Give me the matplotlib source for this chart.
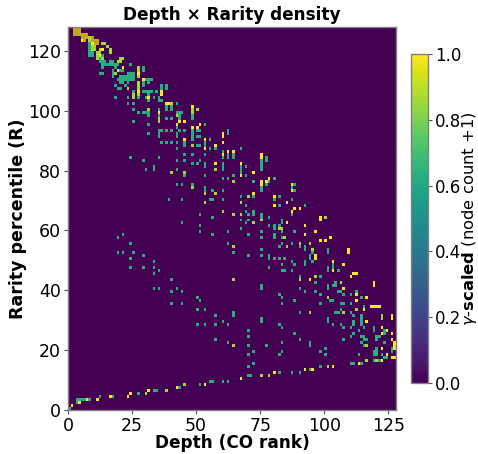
import numpy as np
import matplotlib
matplotlib.use("Agg")
import matplotlib.pyplot as plt
from matplotlib.colors import ListedColormap

teal_cells = [
(0,0),(3,2),(4,3),(5,3),(6,3),(3,3),(8,3),(12,4),(17,4),(27,5),(33,6),(34,6),(43,7),(51,8),(56,9),(55,9),(60,9),(62,9),(70,11),(71,11),(82,12),
(40,35),(44,35),(51,36),(83,35),(50,33),(53,33),(57,31),(64,31),(64,32),(75,29),(75,30),(60,29),(50,28),(53,28),(57,28),(62,28),(82,28),(83,27),
(70,26),(70,24),(57,23),(62,22),(70,21),(77,21),(83,22),(72,19),(83,19),(82,18),(70,18),(72,15),(70,14),(50,37),(51,36),(82,38),(83,37),
(24,84),(29,83),(35,84),(42,83),(45,83),(45,85),(48,85),(53,85),(48,82),(50,82),(51,83),(53,81),(53,82),(60,80),(60,81),(60,82),
(60,84),(60,86),(62,84),(62,85),(64,84),(64,85),(67,87),(30,80),(33,80),(33,81),(42,80),(45,78),(53,78),(60,77),(62,77),(64,78),
(67,81),(67,80),(67,79),(69,81),(69,78),(72,76),(75,83),(75,82),(75,81),(75,80),(77,83),(77,84),(75,74),(75,73),(77,75),(78,76),(80,77),
(42,75),(44,75),(48,75),(53,73),(53,74),(56,73),(60,73),(72,71),(67,71),(39,70),(44,70),(55,70),(56,70),(60,70),(69,68),(80,70),(82,71),(82,68),
(51,65),(56,64),(69,66),(70,65),(72,65),(72,66),(75,64),(75,65),(78,64),(67,63),(70,63),(69,62),(83,62),(83,63),(44,62),(51,61),(67,60),(78,61),
(80,60),(80,61),(82,61),(51,59),(62,59),(75,59),(56,58),(70,58),(75,57),(80,57),(80,58),(21,58),(19,57),(24,55),(62,55),(82,54),(83,55),
(75,53),(19,52),(21,52),(25,52),(64,52),(29,51),(70,51),(75,51),(78,50),(78,51),(80,50),(82,50),(84,50),(24,50),(33,49),(83,48),(24,47),(29,47),
(33,47),(35,46),(78,47),(83,46),(84,46),(33,45),(40,43),(75,40),(75,41),(33,40),(35,40),(42,40),(40,39),(44,39),(82,38),(83,37),
(42,102),(48,99),(48,98),(48,97),(43,99),(42,99),(43,96),(42,94),(50,93),(51,93),(50,94),(53,95),(48,93),(48,91),(48,90),(40,93),
(45,93),(42,91),(42,92),(50,91),(51,91),(45,88),(45,89),(40,89),(42,89),(42,87),(53,88),(53,89),(53,90),(55,90),(55,87),(57,87),(62,92),(62,93),
(48,85),(45,85),(50,88),(51,88),(36,93),(38,93),(35,91),(35,92),(35,93),(36,89),(38,89),(40,89),(42,91),(42,92),(45,88),(45,89),(45,93),(48,91),(48,92),(50,93),(51,93),
(87,74),(88,75),(88,73),(82,71),(87,70),(82,68),(92,68),(87,65),(83,62),(83,63),(83,59),(88,59),(83,57),(83,55),(82,54),(87,55),(90,54),(92,53),(92,54),(95,52),
(101,52),(101,53),(94,50),(94,51),(95,49),(82,50),(84,50),(87,49),(83,48),(88,48),(92,48),(92,49),(103,47),(103,48),(101,46),(101,47),(105,46),(83,46),(84,46),(87,46),
(90,44),(98,44),(96,42),(101,40),(101,41),(103,41),(104,41),(104,42),(90,40),(92,39),(96,39),(98,38),(105,39),(106,39),(107,38),(110,38),(112,39),(102,36),(103,36),
(114,37),(82,38),(83,37),(83,35),(88,36),(98,35),(106,35),(107,35),(110,35),(115,34),(90,32),(104,32),(105,32),(106,33),(110,32),(111,31),(114,28),(114,29),(114,30),(114,31),
(111,29),(101,29),(101,30),(103,28),(106,28),(107,27),(110,27),(111,28),(115,27),(82,28),(83,27),(119,26),(119,27),(123,25),(123,26),(113,26),(111,25),(110,24),(88,25),
(114,24),(115,24),(120,24),(121,24),(115,23),(116,23),(120,23),(107,23),(90,23),(83,22),(94,21),(94,22),(123,22),(114,22),(115,21),(126,19),(126,20),(100,20),(98,19),(83,19),
(82,18),(119,18),(119,19),(120,18),(120,19),(120,20),(100,18),(113,18),(122,18),(123,17),(124,17),(119,16),(121,16),(110,15),(111,15),(114,15),(98,14),(94,13),(82,12),(87,12),(90,12),
(8,122),(8,121),(8,120),(8,119),(8,118),(9,119),(9,118),(12,118),(12,117),(13,118),(12,116),(13,116),(13,115),(13,114),(14,115),(14,116),(15,115),(16,115),(16,116),(17,115),(17,116),
(18,115),(18,114),(19,115),(17,113),(17,112),(17,111),(12,112),(13,112),(19,110),(20,110),(20,111),(20,113),(21,110),(21,111),(21,113),(22,110),(22,111),
(19,113),(24,115),(24,110),(24,111),(19,107),(20,107),(20,109),(21,109),(22,108),(18,108),(18,104),(23,112),(24,112),(25,112),(23,111),(23,110),(23,109),(25,111),(25,110),
(25,106),(25,105),(23,104),(27,104),(29,113),(29,114),(29,109),(29,108),(30,110),(31,110),(32,110),(31,109),(29,106),(30,106),(31,106),(32,106),(30,104),(33,104),(31,105),(31,103),(34,106),
(36,106),(36,107),(36,108),(35,103),(35,104),(36,103),(38,107),(38,108),(38,100),(38,101),(40,100),(40,101),(42,102),(23,102),(25,102),(25,100),(27,99),(29,99),(31,98),(31,99),(30,99),
(25,96),(31,95),(31,92),(35,98),(35,100),(38,97),(40,97),(43,98),(43,99),(44,99),(43,97),(35,93),(38,93),(40,93),(43,93),(50,100),(40,101),
]
lime_cells = [
(7,3),(30,5),(38,6),(45,8),(75,11),(78,11),(64,21),(64,76),(57,80),(40,79),(45,79),(48,74),(53,72),(57,72),(70,71),(53,69),(67,69),(60,66),(64,65),(67,65),
(75,63),(72,62),(82,60),(83,60),(84,57),(64,54),(85,54),(64,43),(40,102),(48,100),(50,100),(42,98),(94,55),(90,43),(96,44),(106,42),(101,37),(112,33),(94,32),(107,32),(122,30),(122,31),
(116,21),(116,16),(120,16),(101,14),(84,57),(95,53),(100,64),(90,55),(48,88),
(10,122),(10,123),(11,122),(11,123),(10,120),(10,121),(11,119),(11,118),(11,117),(12,119),(12,120),(13,122),(14,122),(15,121),(16,120),(16,119),(13,117),(20,117),(21,117),(20,116),(19,116),
(18,112),(23,107),(25,104),(25,105),(27,114),(27,113),(27,112),(27,111),(27,109),(27,108),(27,107),(27,105),(31,100),(35,96),(35,97),(48,99),
]
yellow_cells = [
(1,1),(4,2),(7,3),(11,3),(16,4),(23,4),(24,5),(31,6),(42,7),(53,8),(67,10),(80,12),(60,85),(62,86),(64,86),(57,82),(67,82),(67,78),(72,79),(75,85),(75,84),(75,76),(75,75),
(77,76),(78,77),(72,72),(80,71),(85,69),(80,68),(85,62),(48,101),(48,94),(45,96),(42,95),(51,95),(50,94),(45,90),(53,87),(57,88),(60,91),(60,92),(60,89),(45,90),(53,90),
(87,75),(87,73),(85,69),(88,67),(90,67),(87,66),(98,63),(98,64),(92,61),(96,59),(92,58),(102,57),(98,56),(100,56),(109,52),(109,53),(96,50),(96,51),(103,49),(107,48),(103,46),
(111,45),(112,45),(110,44),(94,43),(119,41),(119,42),(107,40),(112,38),(112,36),(116,37),(115,33),(118,34),(119,34),(120,34),(121,34),(116,29),(126,30),(126,31),(122,27),(124,26),
(122,25),(126,25),(126,23),(127,22),(127,20),(127,21),(122,20),(124,18),(126,17),(127,17),(122,16),(113,15),(103,14),(92,13),(95,13),
(5,123),(9,122),(13,120),(12,118),(19,113),(21,114),(27,112),(27,106),(29,110),(31,104),(36,106),(36,105),(35,99),(38,102),(39,102),(43,96),(45,96),
]
orange_cells = [
(2,127),(3,127),(4,127),(2,126),(3,126),(4,126),(2,125),(3,125),(4,125),(5,125),(6,125),(7,125),(5,124),(6,124),(7,124),(6,123),(9,124),(9,123),(10,123),(11,123),(10,122),(11,122),
]
base_under_orange = [(2,127),(3,127),(4,127),(2,126),(3,126),(4,126),(2,125),(3,125),(4,125),(5,125),(6,125),(7,125),(5,124),(6,124),(7,124),(6,123),(8,124),(8,123),(9,124),(9,123),(9,121),(9,120)]

xticks = [0, 25, 50, 75, 100, 125]
yticks = [0, 20, 40, 60, 80, 100, 120]
cticks = [0.0, 0.2, 0.4, 0.6, 0.8, 1.0]

TEAL, LIME, YELLOW = 0.63, 0.86, 1.0
grid = np.zeros((128, 128))
for d, r in base_under_orange:
    grid[r, d] = LIME
for cells, v in ((teal_cells, TEAL), (lime_cells, LIME), (yellow_cells, YELLOW)):
    for d, r in cells:
        grid[r, d] = v
over = np.full((128, 128), np.nan)
for d, r in orange_cells:
    over[r, d] = 1.0

W, H = 478, 454
fig = plt.figure(figsize=(W/100, H/100), dpi=100)
ax = fig.add_axes([68/W, 1-410/H, 328/W, 383/H])
im = ax.imshow(grid, origin='lower', cmap='viridis', vmin=0, vmax=1, aspect='auto',
               extent=[0, 128, 0, 128], interpolation='nearest')
ax.imshow(over, origin='lower', cmap=ListedColormap(['#e8740c']), vmin=0, vmax=1, aspect='auto',
          extent=[0, 128, 0, 128], interpolation='nearest', alpha=0.5)
ax.set_xlim(0, 128); ax.set_ylim(0, 128)
ax.set_xticks(xticks); ax.set_yticks(yticks)
ax.tick_params(labelsize=12.5, length=3, width=0.8, color='#555555', pad=2)
for s in ax.spines.values():
    s.set_color('#808080'); s.set_linewidth(1.0)
ax.set_title('Depth × Rarity density', fontsize=12.2, fontweight='bold', pad=5)
ax.set_xlabel('Depth (CO rank)', fontsize=12.2, fontweight='bold')
ax.set_ylabel('Rarity percentile (R)', fontsize=12.5, fontweight='bold')
ax.xaxis.set_label_coords(0.5, -(434-410)/383)
ax.yaxis.set_label_coords((27-68)/328, 0.5)

cax = fig.add_axes([411/W, 1-383/H, 17/W, 329/H])
cb = fig.colorbar(im, cax=cax)
cb.set_ticks(cticks)
cb.ax.tick_params(labelsize=12, length=3, width=0.8, color='#555555', pad=2)
cb.outline.set_edgecolor('#808080'); cb.outline.set_linewidth(1.0)
cb.set_label(r'$\gamma$-$\mathbf{scaled}$ (node count $+1$)', fontsize=11.8)
cax.yaxis.set_label_coords((460-411)/17, 0.5)
fig.savefig('out.png', dpi=100)
